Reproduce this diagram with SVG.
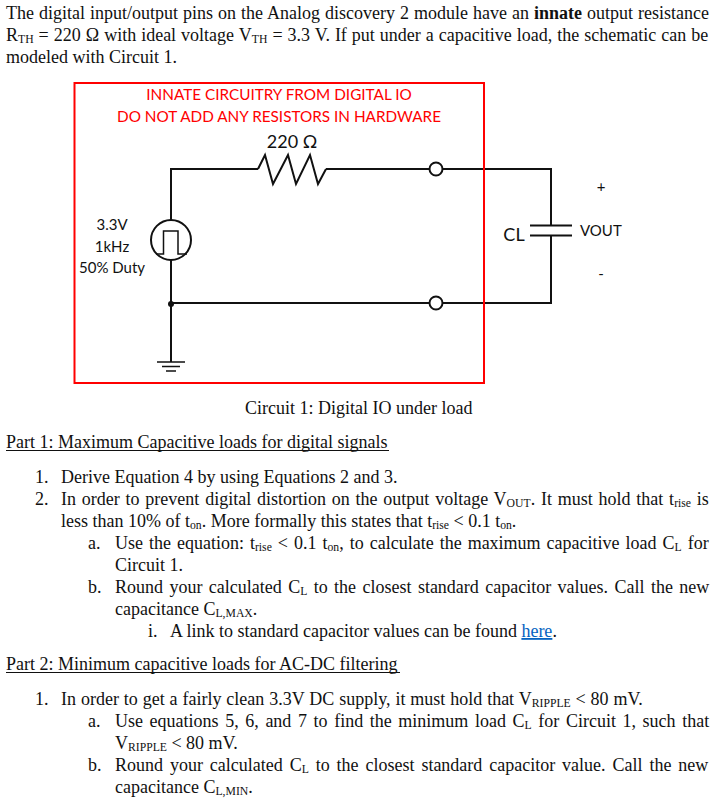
<svg xmlns="http://www.w3.org/2000/svg" width="721" height="801" viewBox="0 0 721 801">
<style>
.t{font-family:"Liberation Serif","Times New Roman",serif;font-size:18px;fill:#111}
.s{font-size:11.700px;baseline-shift:-1.500px}
.c{font-family:Lato,"Open Sans",sans-serif;fill:#111}
.r{font-family:Lato,"Open Sans",sans-serif;fill:#f00;font-size:15.300px;text-anchor:middle}
.w{fill:none;stroke:#111;stroke-width:2}
.g{fill:none;stroke:#111;stroke-width:1.500}
.u{stroke:#111;stroke-width:1}
</style>
<rect width="721" height="801" fill="#fff"/>
<g id="intro">
<text class="t" x="6" y="19" word-spacing="0.5">The digital input/output pins on the Analog discovery 2 module have an <tspan font-weight="bold">innate</tspan> output resistance</text>
<text class="t" x="6" y="41" word-spacing="0.5">R<tspan class="s">TH</tspan> = 220 Ω with ideal voltage V<tspan class="s">TH</tspan> = 3.3 V. If put under a capacitive load, the schematic can be</text>
<text class="t" x="6" y="63">modeled with Circuit 1.</text>
</g>
<g id="connectors">
<path class="w" d="M171 220V169H258M326 169H429M443 169H551V225M551 235V303H443M429 303H171M171 260V362"/>
</g>
<g id="frame"><rect x="74.500" y="83" width="409.500" height="300" fill="none" stroke="#f00" stroke-width="2"/></g>
<g id="resistor"><path class="w" d="M258 169L265 155L273 184L288 155L296 184L310 155L318 184L326 169"/></g>
<g id="source">
<circle class="w" cx="171" cy="240" r="20"/>
<path class="g" d="M156 254H163.500V231H178V254H187"/>
</g>
<g id="junction"><circle cx="171" cy="304" r="3" fill="#111"/></g>
<g id="ground"><path class="g" d="M157 362H185M162 366.500H180M166 371H176"/></g>
<g id="terminal-top"><circle cx="436" cy="169" r="6.500" fill="#fff" stroke="#111" stroke-width="2"/></g>
<g id="terminal-bottom"><circle cx="436" cy="303" r="6.500" fill="#fff" stroke="#111" stroke-width="2"/></g>
<g id="capacitor"><path class="w" d="M530 225.500H572M530 235.500H572"/></g>
<g id="labels">
<text class="r" x="279" y="100">INNATE CIRCUITRY FROM DIGITAL IO</text>
<text class="r" x="279" y="122">DO NOT ADD ANY RESISTORS IN HARDWARE</text>
<text class="c" x="292" y="148" font-size="18" text-anchor="middle">220 Ω</text>
<text class="c" x="112" y="230" font-size="15" text-anchor="middle">3.3V</text>
<text class="c" x="112" y="252" font-size="15" text-anchor="middle">1kHz</text>
<text class="c" x="112" y="273" font-size="15" text-anchor="middle">50% Duty</text>
<text class="c" x="514" y="241" font-size="18" text-anchor="middle">CL</text>
<text class="c" x="580" y="236" font-size="15">VOUT</text>
<text class="c" x="601" y="192" font-size="15" text-anchor="middle">+</text>
<text class="c" x="601" y="279" font-size="15" text-anchor="middle">-</text>
</g>
<g id="body">
<text class="t" x="245" y="414">Circuit 1: Digital IO under load</text>
<text class="t" x="6" y="448">Part 1: Maximum Capacitive loads for digital signals</text>
<line class="u" x1="6" x2="389" y1="450.500" y2="450.500"/>
<text class="t" x="35" y="483">1.</text>
<text class="t" x="61" y="483">Derive Equation 4 by using Equations 2 and 3.</text>
<text class="t" x="35" y="505">2.</text>
<text class="t" x="61" y="505" word-spacing="1.300">In order to prevent digital distortion on the output voltage V<tspan class="s">OUT</tspan>. It must hold that t<tspan class="s">rise</tspan> is</text>
<text class="t" x="61" y="527">less than 10% of t<tspan class="s">on</tspan>. More formally this states that t<tspan class="s">rise</tspan> &lt; 0.1 t<tspan class="s">on</tspan>.</text>
<text class="t" x="88" y="549">a.</text>
<text class="t" x="115" y="549" word-spacing="1.500">Use the equation: t<tspan class="s">rise</tspan> &lt; 0.1 t<tspan class="s">on</tspan>, to calculate the maximum capacitive load C<tspan class="s">L</tspan> for</text>
<text class="t" x="115" y="571">Circuit 1.</text>
<text class="t" x="88" y="593">b.</text>
<text class="t" x="115" y="593" word-spacing="1.900">Round your calculated C<tspan class="s">L</tspan> to the closest standard capacitor values. Call the new</text>
<text class="t" x="115" y="615">capacitance C<tspan class="s">L,MAX</tspan>.</text>
<text class="t" x="148" y="637">i.</text>
<text class="t" x="170" y="637">A link to standard capacitor values can be found <tspan fill="#0563c1" text-decoration="underline">here</tspan>.</text>
<text class="t" x="6" y="670">Part 2: Minimum capacitive loads for AC-DC filtering</text>
<line class="u" x1="6" x2="400" y1="672.500" y2="672.500"/>
<text class="t" x="35" y="705">1.</text>
<text class="t" x="61" y="705" word-spacing="0.400">In order to get a fairly clean 3.3V DC supply, it must hold that V<tspan class="s">RIPPLE</tspan> &lt; 80 mV.</text>
<text class="t" x="88" y="727">a.</text>
<text class="t" x="115" y="727" word-spacing="2.100">Use equations 5, 6, and 7 to find the minimum load C<tspan class="s">L</tspan> for Circuit 1, such that</text>
<text class="t" x="115" y="749">V<tspan class="s">RIPPLE</tspan> &lt; 80 mV.</text>
<text class="t" x="88" y="771">b.</text>
<text class="t" x="115" y="771" word-spacing="2.400">Round your calculated C<tspan class="s">L</tspan> to the closest standard capacitor value. Call the new</text>
<text class="t" x="115" y="793">capacitance C<tspan class="s">L,MIN</tspan>.</text>
</g>
</svg>
